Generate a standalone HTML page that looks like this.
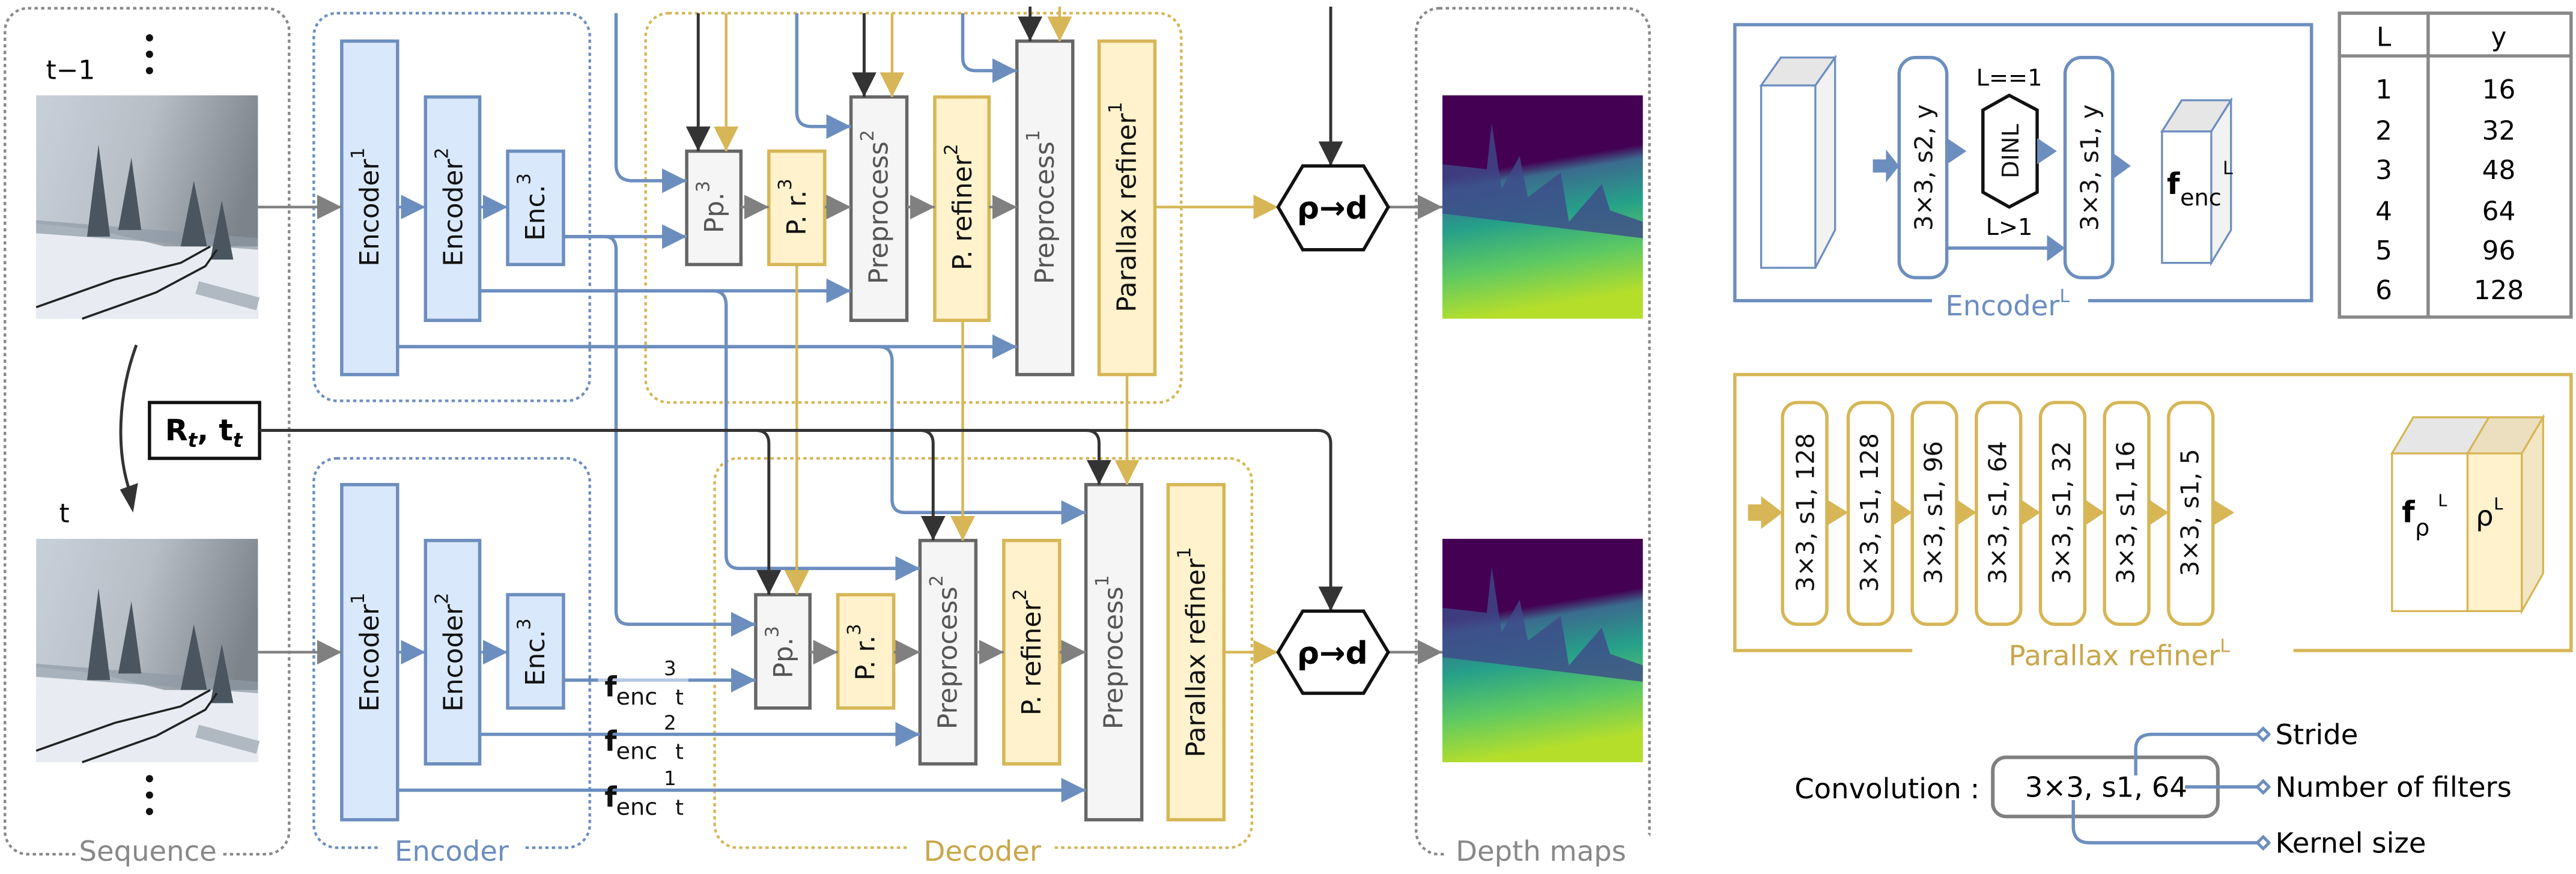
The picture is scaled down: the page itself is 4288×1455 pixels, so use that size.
<!DOCTYPE html>
<html><head><meta charset="utf-8"><style>
html,body{margin:0;padding:0;background:#fff;}
svg{display:block;}
text{font-family:"DejaVu Sans","Liberation Sans",sans-serif;}
</style></head><body>
<svg width="4288" height="1455" viewBox="0 0 1568 532" xmlns="http://www.w3.org/2000/svg">
<defs>
<marker id="mg" viewBox="0 0 10 10" refX="10" refY="5" markerWidth="15" markerHeight="16" markerUnits="userSpaceOnUse" orient="auto"><path d="M0,0L10,5L0,10z" fill="#808080"/></marker>
<marker id="mb" viewBox="0 0 10 10" refX="10" refY="5" markerWidth="15" markerHeight="16" markerUnits="userSpaceOnUse" orient="auto"><path d="M0,0L10,5L0,10z" fill="#6c8ebf"/></marker>
<marker id="my" viewBox="0 0 10 10" refX="10" refY="5" markerWidth="15" markerHeight="16" markerUnits="userSpaceOnUse" orient="auto"><path d="M0,0L10,5L0,10z" fill="#d6b656"/></marker>
<marker id="mk" viewBox="0 0 10 10" refX="10" refY="5" markerWidth="15" markerHeight="16" markerUnits="userSpaceOnUse" orient="auto"><path d="M0,0L10,5L0,10z" fill="#333"/></marker>
<marker id="md" viewBox="0 0 10 10" refX="1" refY="5" markerWidth="9" markerHeight="12" markerUnits="userSpaceOnUse" orient="auto"><path d="M1,5L5,1L9,5L5,9z" fill="#fff" stroke="#6c8ebf" stroke-width="2"/></marker>
<linearGradient id="sky" x1="0" y1="0" x2="1" y2="0.3">
<stop offset="0" stop-color="#c8d0da"/><stop offset="0.5" stop-color="#b8bec6"/><stop offset="1" stop-color="#7d838b"/></linearGradient>
<linearGradient id="dep" x1="0" y1="0" x2="0.15" y2="1">
<stop offset="0" stop-color="#440154"/><stop offset="0.36" stop-color="#440154"/><stop offset="0.42" stop-color="#3b6b8e"/><stop offset="0.6" stop-color="#26a08a"/><stop offset="0.8" stop-color="#5ec962"/><stop offset="1" stop-color="#b5de2b"/></linearGradient>
</defs>

<!-- group boxes -->
<g fill="none" stroke-width="1.6" stroke-dasharray="2,2">
<rect x="3" y="5" width="173" height="515" rx="14" stroke="#888"/>
<rect x="191" y="8" width="168" height="236" rx="14" stroke="#6c8ebf"/>
<rect x="191" y="279" width="168" height="237" rx="14" stroke="#6c8ebf"/>
<rect x="393" y="8" width="326" height="237" rx="14" stroke="#d6b656"/>
<rect x="435" y="279" width="327" height="237" rx="14" stroke="#d6b656"/>
<rect x="862" y="5" width="142" height="515" rx="14" stroke="#888"/>
</g>
<g font-size="17" text-anchor="middle">
<rect x="48" y="508" width="86" height="20" fill="#fff"/><text x="90" y="524" fill="#888">Sequence</text>
<rect x="232" y="508" width="86" height="20" fill="#fff"/><text x="275" y="524" fill="#6c8ebf">Encoder</text>
<rect x="552" y="508" width="90" height="20" fill="#fff"/><text x="598" y="524" fill="#c9a64a">Decoder</text>
<rect x="880" y="508" width="124" height="20" fill="#fff"/><text x="938" y="524" fill="#888">Depth maps</text>
</g>

<!-- sequence -->
<text x="28" y="48" font-size="16">t−1</text>
<g fill="#111"><circle cx="91" cy="23" r="2.2"/><circle cx="91" cy="33" r="2.2"/><circle cx="91" cy="43" r="2.2"/>
<circle cx="91" cy="474" r="2.2"/><circle cx="91" cy="484" r="2.2"/><circle cx="91" cy="494" r="2.2"/></g>
<text x="36" y="318" font-size="16">t</text>
<g id="img1">
<rect x="22" y="58" width="135" height="136" fill="url(#sky)"/>
<path d="M22,136 L60,140 L100,150 L157,150 L157,194 L22,194z" fill="#e8ecf2"/>
<path d="M22,134 L157,145 L157,152 L22,142z" fill="#8d9aa6" opacity="0.7"/>
<g fill="#4a5560"><path d="M60,88L53,144L67,144z"/><path d="M80,96L72,140L86,140z"/><path d="M118,110L110,150L126,150z"/><path d="M135,122L128,158L142,158z"/></g>
<path d="M22,187 L70,170 L110,160 L128,150 M50,194 L95,178 L125,162 L132,152" fill="none" stroke="#222" stroke-width="1.3"/>
<path d="M120,175 L157,185" stroke="#b0b8c2" stroke-width="8"/>
</g>
<use href="#img1" transform="translate(0,270)"/>
<path d="M83,210 C72,240 70,275 80,302" fill="none" stroke="#333" stroke-width="1.8"/>
<path d="M73,298 L81,312 L84,294z" fill="#333"/>

<!-- Rt box -->
<rect x="91" y="245" width="67" height="34" fill="#fff" stroke="#111" stroke-width="2"/>
<text x="124" y="268" font-size="18" font-weight="bold" text-anchor="middle" font-family="Liberation Serif,serif">R<tspan font-size="12" font-style="italic" dy="4">t</tspan><tspan dy="-4">, t</tspan><tspan font-size="12" font-style="italic" dy="4">t</tspan></text>

<!-- encoder blocks -->
<g fill="#dae8fc" stroke="#6c8ebf" stroke-width="2">
<rect x="208" y="25" width="34" height="203"/><rect x="259" y="59" width="33" height="136"/><rect x="309" y="92" width="34" height="69"/>
<rect x="208" y="295" width="34" height="204"/><rect x="259" y="329" width="33" height="136"/><rect x="309" y="362" width="34" height="69"/>
</g>
<!-- decoder blocks -->
<g stroke-width="2">
<g fill="#f5f5f5" stroke="#666">
<rect x="418" y="92" width="33" height="69"/><rect x="518" y="59" width="34" height="136"/><rect x="619" y="25" width="34" height="203"/>
<rect x="460" y="362" width="33" height="69"/><rect x="560" y="329" width="34" height="136"/><rect x="661" y="295" width="34" height="204"/>
</g>
<g fill="#fff2cc" stroke="#d6b656">
<rect x="468" y="92" width="34" height="69"/><rect x="569" y="59" width="33" height="136"/><rect x="669" y="25" width="34" height="203"/>
<rect x="510" y="362" width="34" height="69"/><rect x="611" y="329" width="34" height="136"/><rect x="711" y="295" width="34" height="204"/>
</g></g>

<g font-size="16" text-anchor="middle" dominant-baseline="central">
<g fill="#111">
<text transform="translate(225,126) rotate(-90)">Encoder<tspan font-size="11" dy="-7">1</tspan></text>
<text transform="translate(276,126) rotate(-90)">Encoder<tspan font-size="11" dy="-7">2</tspan></text>
<text transform="translate(326,126) rotate(-90)">Enc.<tspan font-size="11" dy="-7">3</tspan></text>
<text transform="translate(225,397) rotate(-90)">Encoder<tspan font-size="11" dy="-7">1</tspan></text>
<text transform="translate(276,397) rotate(-90)">Encoder<tspan font-size="11" dy="-7">2</tspan></text>
<text transform="translate(326,397) rotate(-90)">Enc.<tspan font-size="11" dy="-7">3</tspan></text>
<text transform="translate(485,126) rotate(-90)">P. r.<tspan font-size="11" dy="-7">3</tspan></text>
<text transform="translate(586,126) rotate(-90)">P. refiner<tspan font-size="11" dy="-7">2</tspan></text>
<text transform="translate(686,126) rotate(-90)">Parallax refiner<tspan font-size="11" dy="-7">1</tspan></text>
<text transform="translate(527,397) rotate(-90)">P. r.<tspan font-size="11" dy="-7">3</tspan></text>
<text transform="translate(628,397) rotate(-90)">P. refiner<tspan font-size="11" dy="-7">2</tspan></text>
<text transform="translate(728,397) rotate(-90)">Parallax refiner<tspan font-size="11" dy="-7">1</tspan></text>
</g>
<g fill="#555">
<text transform="translate(435,126) rotate(-90)">Pp.<tspan font-size="11" dy="-7">3</tspan></text>
<text transform="translate(535,126) rotate(-90)">Preprocess<tspan font-size="11" dy="-7">2</tspan></text>
<text transform="translate(636,126) rotate(-90)">Preprocess<tspan font-size="11" dy="-7">1</tspan></text>
<text transform="translate(477,397) rotate(-90)">Pp.<tspan font-size="11" dy="-7">3</tspan></text>
<text transform="translate(577,397) rotate(-90)">Preprocess<tspan font-size="11" dy="-7">2</tspan></text>
<text transform="translate(678,397) rotate(-90)">Preprocess<tspan font-size="11" dy="-7">1</tspan></text>
</g></g>

<!-- main flow gray arrows -->
<g stroke="#808080" stroke-width="1.6" fill="none" marker-end="url(#mg)">
<path d="M157,126H208"/><path d="M157,397H208"/>
<path d="M451,126H468"/><path d="M502,126H518"/><path d="M552,126H569"/><path d="M602,126H619"/>
<path d="M493,397H510"/><path d="M544,397H560"/><path d="M594,397H611"/><path d="M645,397H661"/>
<path d="M845,126H878"/><path d="M845,397H878"/>
</g>
<g stroke="#6c8ebf" stroke-width="1.6" fill="none" marker-end="url(#mb)">
<path d="M242,126H259"/><path d="M292,126H309"/><path d="M242,397H259"/><path d="M292,397H309"/>
</g>
<g stroke="#d6b656" stroke-width="1.6" fill="none" marker-end="url(#my)">
<path d="M703,126H778"/><path d="M745,397H778"/>
</g>

<!-- blue connectors -->
<g stroke="#6c8ebf" stroke-width="2" fill="none" marker-end="url(#mb)">
<path d="M375,8V100Q375,110 385,110H418"/>
<path d="M343,144H418"/>
<path d="M343,144H368Q375,144 375,152V372Q375,380 383,380H460"/>
<path d="M485,8V68Q485,77 494,77H518"/>
<path d="M292,177H518"/>
<path d="M292,177H434Q442,177 442,186V338Q442,346 450,346H560"/>
<path d="M586,8V35Q586,43 594,43H619"/>
<path d="M242,211H619"/>
<path d="M242,211H535Q543,211 543,220V304Q543,312 551,312H661"/>
<path d="M343,414H460"/>
<path d="M292,447H560"/>
<path d="M242,481H661"/>
</g>
<!-- gold connectors -->
<g stroke="#d6b656" stroke-width="1.6" fill="none" marker-end="url(#my)">
<path d="M442,8V92"/><path d="M543,8V59"/><path d="M645,4V25"/>
<path d="M485,161V362"/><path d="M586,195V329"/><path d="M686,228V295"/>
</g>
<!-- black connectors -->
<g stroke="#333" stroke-width="1.8" fill="none" marker-end="url(#mk)">
<path d="M425,8V92"/><path d="M526,8V59"/><path d="M627,4V25"/>
<path d="M810,4V101"/>
<path d="M158,262H460Q468,262 468,270V362"/>
<path d="M158,262H560Q568,262 568,270V329"/>
<path d="M158,262H661Q669,262 669,270V295"/>
<path d="M158,262H802Q810,262 810,270V372"/>
</g>

<!-- feature labels -->
<g fill="#111">
<rect x="364" y="411" width="55" height="6" fill="#fff" opacity="0.5"/>
<text x="368" y="424" font-size="17" font-weight="bold">f</text><text x="375" y="429" font-size="14">enc</text><text x="404" y="411" font-size="12">3</text><text x="411" y="429" font-size="13">t</text>
<text x="368" y="457" font-size="17" font-weight="bold">f</text><text x="375" y="462" font-size="14">enc</text><text x="404" y="444" font-size="12">2</text><text x="411" y="462" font-size="13">t</text>
<text x="368" y="491" font-size="17" font-weight="bold">f</text><text x="375" y="496" font-size="14">enc</text><text x="404" y="478" font-size="12">1</text><text x="411" y="496" font-size="13">t</text>
</g>

<!-- hexagons -->
<g fill="#fff" stroke="#111" stroke-width="2">
<path d="M778,126L793,101H830L845,126L830,152H793z"/>
<path d="M778,397L793,372H830L845,397L830,422H793z"/>
</g>
<text x="811" y="133" font-size="19" font-weight="bold" text-anchor="middle">ρ→d</text>
<text x="811" y="404" font-size="19" font-weight="bold" text-anchor="middle">ρ→d</text>

<!-- depth maps -->
<g id="dm">
<rect x="878" y="58" width="122" height="136" fill="url(#dep)"/>
<path d="M878,100 L905,103 L908,75 L914,115 L925,95 L930,120 L950,105 L955,135 L975,112 L980,128 L1000,135 L1000,145 L878,130z" fill="#3e4a89" opacity="0.8"/>
</g>
<use href="#dm" transform="translate(0,270)"/>

<!-- Encoder^L panel -->
<rect x="1056" y="15" width="351" height="168" fill="none" stroke="#6c8ebf" stroke-width="2"/>
<rect x="1176" y="176" width="95" height="16" fill="#fff"/>
<text x="1222" y="192" font-size="17" fill="#6c8ebf" text-anchor="middle">Encoder<tspan font-size="11" dy="-8">L</tspan></text>
<g stroke="#6c8ebf" stroke-width="1.2">
<path d="M1072,52L1084,35H1117L1105,52z" fill="#e6e6e6"/>
<path d="M1105,52L1117,35V140L1105,163z" fill="#f2f2f2"/>
<rect x="1072" y="52" width="33" height="111" fill="#fff"/>
<path d="M1316,80L1328,61H1358L1346,80z" fill="#e6e6e6"/>
<path d="M1346,80L1358,61V140L1346,160z" fill="#f2f2f2"/>
<rect x="1316" y="80" width="30" height="80" fill="#fff"/>
</g>
<g fill="#fff" stroke="#6c8ebf" stroke-width="2">
<rect x="1156" y="35" width="29" height="134" rx="10"/><rect x="1257" y="35" width="29" height="134" rx="10"/>
</g>
<path d="M1207,67L1223,58L1240,67V117L1223,126L1207,117z" fill="#fff" stroke="#111" stroke-width="2"/>
<g fill="#6c8ebf">
<path d="M1140,97H1148V91L1156,101L1148,111V105H1140z"/>
<path d="M1185,84L1197,92L1185,100z"/><path d="M1240,84L1252,92L1240,100z"/>
<path d="M1286,93L1297,101L1286,109z"/>
<path d="M1246,143L1257,151L1246,159z"/>
</g>
<path d="M1185,151H1248" stroke="#6c8ebf" stroke-width="2"/>
<g font-size="15" text-anchor="middle" dominant-baseline="central" fill="#111">
<text transform="translate(1171,102) rotate(-90)">3×3, s2, y</text>
<text transform="translate(1272,102) rotate(-90)">3×3, s1, y</text>
<text transform="translate(1224,92) rotate(-90)" font-size="14">DINL</text>
</g>
<text x="1223" y="52" font-size="14" text-anchor="middle">L==1</text>
<text x="1223" y="143" font-size="14" text-anchor="middle">L&gt;1</text>
<text x="1319" y="118" font-size="18" font-weight="bold">f</text><text x="1327" y="125" font-size="14">enc</text><text x="1353" y="106" font-size="11">L</text>

<!-- table -->
<g fill="none" stroke="#888" stroke-width="2">
<rect x="1424" y="8" width="141" height="185"/><path d="M1424,34H1565M1478,8V193"/>
</g>
<g font-size="16" text-anchor="middle">
<text x="1451" y="28">L</text><text x="1521" y="28">y</text>
<text x="1451" y="60">1</text><text x="1521" y="60">16</text>
<text x="1451" y="85">2</text><text x="1521" y="85">32</text>
<text x="1451" y="109">3</text><text x="1521" y="109">48</text>
<text x="1451" y="134">4</text><text x="1521" y="134">64</text>
<text x="1451" y="158">5</text><text x="1521" y="158">96</text>
<text x="1451" y="182">6</text><text x="1521" y="182">128</text>
</g>

<!-- parallax refiner panel -->
<rect x="1056" y="228" width="509" height="168" fill="none" stroke="#d6b656" stroke-width="2"/>
<rect x="1164" y="388" width="232" height="16" fill="#fff"/>
<text x="1290" y="405" font-size="17" fill="#c9a64a" text-anchor="middle">Parallax refiner<tspan font-size="11" dy="-8">L</tspan></text>
<g fill="#fff" stroke="#d6b656" stroke-width="2">
<rect x="1085" y="245" width="27" height="135" rx="9"/><rect x="1125" y="245" width="27" height="135" rx="9"/>
<rect x="1164" y="245" width="27" height="135" rx="9"/><rect x="1203" y="245" width="27" height="135" rx="9"/>
<rect x="1242" y="245" width="27" height="135" rx="9"/><rect x="1281" y="245" width="27" height="135" rx="9"/>
<rect x="1320" y="245" width="27" height="135" rx="9"/>
</g>
<g fill="#d6b656">
<path d="M1064,307H1072V302L1085,312L1072,322V317H1064z"/>
<path d="M1112,304L1125,312L1112,320z"/><path d="M1152,304L1164,312L1152,320z"/>
<path d="M1191,304L1203,312L1191,320z"/><path d="M1230,304L1242,312L1230,320z"/>
<path d="M1269,304L1281,312L1269,320z"/><path d="M1308,304L1320,312L1308,320z"/>
<path d="M1347,304L1360,312L1347,320z"/>
</g>
<g font-size="15" text-anchor="middle" dominant-baseline="central" fill="#111">
<text transform="translate(1099,312) rotate(-90)">3×3, s1, 128</text>
<text transform="translate(1138,312) rotate(-90)">3×3, s1, 128</text>
<text transform="translate(1177,312) rotate(-90)">3×3, s1, 96</text>
<text transform="translate(1216,312) rotate(-90)">3×3, s1, 64</text>
<text transform="translate(1255,312) rotate(-90)">3×3, s1, 32</text>
<text transform="translate(1294,312) rotate(-90)">3×3, s1, 16</text>
<text transform="translate(1333,312) rotate(-90)">3×3, s1, 5</text>
</g>
<g stroke="#d6b656" stroke-width="1.2">
<path d="M1456,276L1469,254H1515L1502,276z" fill="#e6e6e6"/>
<path d="M1502,276L1515,254H1548L1535,276z" fill="#ebdfbf"/>
<path d="M1535,276L1548,254V349L1535,372z" fill="#f2e6c4"/>
<rect x="1456" y="276" width="46" height="96" fill="#fff"/>
<rect x="1502" y="276" width="33" height="96" fill="#fff2cc"/>
</g>
<text x="1462" y="318" font-size="18" font-weight="bold">f</text><text x="1470" y="326" font-size="14">ρ</text><text x="1484" y="308" font-size="10">L</text>
<text x="1507" y="320" font-size="17">ρ</text><text x="1518" y="310" font-size="10">L</text>

<!-- convolution legend -->
<text x="1205" y="486" font-size="17" text-anchor="end">Convolution :</text>
<rect x="1213" y="461" width="137" height="36" rx="8" fill="#fff" stroke="#808080" stroke-width="2.2"/>
<text x="1282" y="485" font-size="17" text-anchor="middle">3×3, s1, 64</text>
<g stroke="#6c8ebf" stroke-width="2" fill="none" marker-end="url(#md)">
<path d="M1300,472V456Q1300,447 1310,447H1374"/>
<path d="M1330,479H1374"/>
<path d="M1262,487V503Q1262,513 1272,513H1374"/>
</g>
<g font-size="17">
<text x="1385" y="453">Stride</text>
<text x="1385" y="485">Number of filters</text>
<text x="1385" y="519">Kernel size</text>
</g>
</svg>
</body></html>
